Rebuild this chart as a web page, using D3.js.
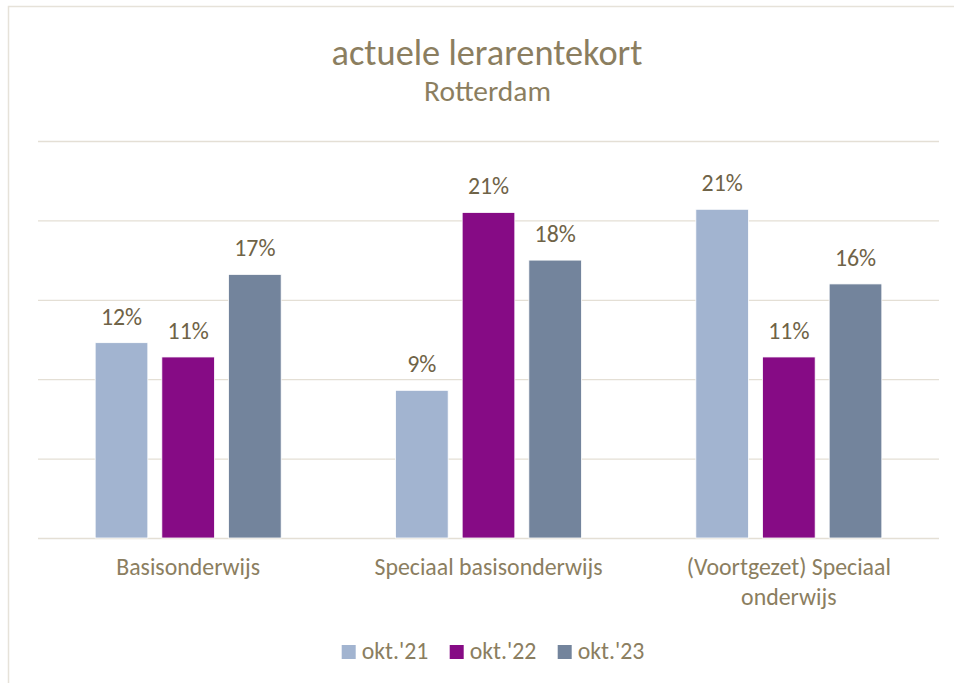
<!DOCTYPE html>
<html>
<head>
<meta charset="utf-8">
<script src="https://cdn.jsdelivr.net/npm/d3@7"></script>
<style>
  html, body { margin: 0; padding: 0; background: #fff; }
  svg { display: block; font-family: Carlito, Calibri, Lato, sans-serif; }
</style>
</head>
<body>
<div id="chart"></div>
<script>
// Lerarentekort per type onderwijs, Rotterdam — grouped bars, three peildata.

const categories = ["Basisonderwijs", "Speciaal basisonderwijs", "(Voortgezet) Speciaal onderwijs"];
const categoryLines = [["Basisonderwijs"], ["Speciaal basisonderwijs"], ["(Voortgezet) Speciaal", "onderwijs"]];
const seriesNames = ["okt.'21", "okt.'22", "okt.'23"];
const okt21 = [0.123, 0.093, 0.207];
const okt22 = [0.114, 0.205, 0.114];
const okt23 = [0.166, 0.175, 0.160];
const yTicks = [0, 0.05, 0.10, 0.15, 0.20, 0.25];
const colors = ["#a2b4d0", "#860b85", "#73849c"];

const W = 954, H = 683;
const margin = { top: 141, right: 15, bottom: 145, left: 38 };
const textCol = "#8b7e60", labelCol = "#6f6347", gridCol = "#e4dfd5";

const svg = d3.select("#chart").append("svg").attr("width", W).attr("height", H);

// chart frame (partly outside the picture)
svg.append("path")
  .attr("d", `M8.5,${H + 2} V6.5 H${W + 2}`)
  .attr("fill", "none").attr("stroke", "#e6e2d9").attr("stroke-width", 1.5);

const x0 = d3.scaleBand().domain(categories).range([margin.left, W - margin.right]).padding(0);
const clusterW = 186;
const x1 = d3.scaleBand().domain(seriesNames).range([0, clusterW]).paddingInner(0.21);
const y = d3.scaleLinear().domain([0, 0.25]).range([H - margin.bottom, margin.top]);

// gridlines
const gY = svg.append("g").attr("transform", `translate(${margin.left},0)`)
  .call(d3.axisLeft(y).tickValues(yTicks).tickSize(-(W - margin.right - margin.left)).tickFormat(""));
gY.select(".domain").remove();
gY.selectAll(".tick line").attr("stroke", gridCol).attr("stroke-width", 1.3);

// fit a font size so that a text matches a width in the reference
function fitSize(txt, weight, target) {
  const t = svg.append("text").attr("font-size", 100).attr("font-weight", weight).text(txt);
  const w = t.node().getComputedTextLength();
  t.remove();
  return 100 * target / w;
}
const baseSize = fitSize("Basisonderwijs", 400, 144);

// title
svg.append("text").attr("x", 487).attr("y", 65).attr("text-anchor", "middle")
  .attr("font-size", fitSize("actuele lerarentekort", 400, 311)).attr("fill", textCol)
  .text("actuele lerarentekort");
svg.append("text").attr("x", 487.5).attr("y", 101).attr("text-anchor", "middle")
  .attr("font-size", fitSize("Rotterdam", 400, 127)).attr("fill", textCol)
  .text("Rotterdam");

const series = seriesNames.map((name, i) => ({ name, values: [okt21, okt22, okt23][i] }));
const pct = d3.format(".0%");

const groups = svg.append("g").selectAll("g.cluster").data(categories).join("g")
  .attr("class", "cluster")
  .attr("transform", d => `translate(${x0(d) + (x0.bandwidth() - clusterW) / 2},0)`);

groups.selectAll("rect").data((c, ci) => series.map((s, si) => ({ s: s.name, si, v: s.values[ci] })))
  .join("rect")
  .attr("x", d => x1(d.s))
  .attr("width", x1.bandwidth())
  .attr("y", d => y(d.v))
  .attr("height", d => y(0) - y(d.v))
  .attr("fill", d => colors[d.si])
  .attr("stroke", "#ffffff").attr("stroke-width", 0.8);

groups.selectAll("text.val").data((c, ci) => series.map((s, si) => ({ s: s.name, v: s.values[ci] })))
  .join("text")
  .attr("class", "val")
  .attr("x", d => x1(d.s) + x1.bandwidth() / 2)
  .attr("y", d => y(d.v) - 18)
  .attr("text-anchor", "middle")
  .attr("font-size", baseSize).attr("fill", labelCol)
  .text(d => pct(d.v));

// category labels
const catLbl = svg.append("g").selectAll("text").data(categories).join("text")
  .attr("x", d => x0(d) + x0.bandwidth() / 2)
  .attr("y", 575)
  .attr("text-anchor", "middle")
  .attr("font-size", baseSize).attr("fill", textCol);
catLbl.selectAll("tspan").data((d, i) => categoryLines[i]).join("tspan")
  .attr("x", function() { return this.parentNode.getAttribute("x"); })
  .attr("dy", (d, i) => i === 0 ? 0 : 29.5)
  .text(d => d);

// legend
const legend = svg.append("g").selectAll("g").data(seriesNames).join("g")
  .attr("transform", (d, i) => `translate(${341.7 + i * 108},0)`);
legend.append("rect").attr("x", 0).attr("y", 645).attr("width", 14).attr("height", 14)
  .attr("fill", (d, i) => colors[i]);
legend.append("text").attr("x", 20).attr("y", 658.5)
  .attr("font-size", baseSize).attr("fill", textCol)
  .text(d => d);
</script>
</body>
</html>
